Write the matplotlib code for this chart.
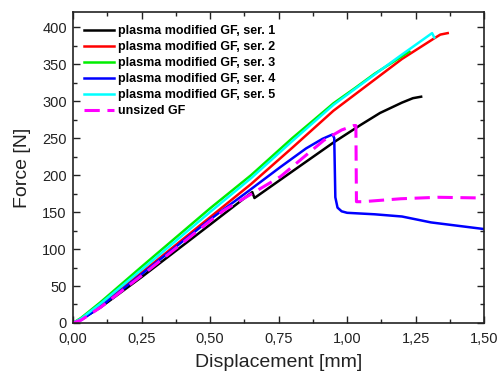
import matplotlib
matplotlib.use("Agg")
import matplotlib.pyplot as plt
from matplotlib.ticker import MultipleLocator, FuncFormatter

plt.rcParams['font.family'] = ['Liberation Sans', 'DejaVu Sans']

# Series data (displacement [mm], force [N])
ser1_x = [0, 0.03, 0.1, 0.25, 0.5, 0.654, 0.662, 0.8, 0.95, 1.05, 1.12, 1.2, 1.24, 1.27]
ser1_y = [0, 5, 21, 62, 133, 177, 169, 205, 244, 268, 284, 298, 304, 306]

ser2_x = [0, 0.03, 0.1, 0.25, 0.5, 0.65, 0.8, 0.95, 1.1, 1.2, 1.318, 1.34, 1.367]
ser2_y = [0, 5, 24, 68, 143, 188, 237, 287, 329, 357, 385, 390, 392]

ser3_x = [0, 0.03, 0.1, 0.25, 0.5, 0.65, 0.8, 0.88, 0.95, 1.03, 1.1, 1.227]
ser3_y = [0, 7, 28, 76, 155, 200, 250, 275, 297, 318, 337, 367]

ser4_x = [0, 0.03, 0.1, 0.25, 0.5, 0.635, 0.757, 0.85, 0.91, 0.947, 0.953, 0.957, 0.965, 0.98, 1.0, 1.1, 1.2, 1.306, 1.5]
ser4_y = [0, 4, 22, 66, 140, 177, 211, 236, 249, 255, 250, 170, 156, 151, 149, 147, 144, 136, 127]

ser5_x = [0, 0.03, 0.1, 0.25, 0.5, 0.65, 0.8, 0.95, 1.1, 1.2, 1.31, 1.318]
ser5_y = [0, 6, 26, 72, 150, 196, 246, 295, 336, 363, 392, 386]

unsized_x = [0, 0.03, 0.1, 0.25, 0.5, 0.549, 0.757, 0.915, 0.98, 1.025, 1.032, 1.034, 1.056, 1.196, 1.33, 1.5]
unsized_y = [0, 4, 21, 64, 138, 152, 198, 247, 261, 267, 267, 164, 164, 168, 170, 169]

labels = ["plasma modified GF, ser. 1", "plasma modified GF, ser. 2",
          "plasma modified GF, ser. 3", "plasma modified GF, ser. 4",
          "plasma modified GF, ser. 5", "unsized GF"]

fig = plt.figure(figsize=(4.99, 3.76), dpi=100)
ax = fig.add_axes([0.1463, 0.141, 0.824, 0.826])

lw = 1.8
ax.plot(ser1_x, ser1_y, color='black', lw=lw, label=labels[0])
ax.plot(ser2_x, ser2_y, color='#ff0000', lw=lw, label=labels[1])
ax.plot(ser3_x, ser3_y, color='#00ee00', lw=lw, label=labels[2])
ax.plot(ser4_x, ser4_y, color='#0000ff', lw=lw, label=labels[3])
ax.plot(ser5_x, ser5_y, color='#00ffff', lw=lw, label=labels[4])
ax.plot(unsized_x, unsized_y, color='#ff00ff', lw=2.2, ls=(0, (5, 2.5)), label=labels[5])

ax.set_xlim(0, 1.5)
ax.set_ylim(0, 420)
ax.xaxis.set_major_locator(MultipleLocator(0.25))
ax.xaxis.set_minor_locator(MultipleLocator(0.125))
ax.yaxis.set_major_locator(MultipleLocator(50))
ax.yaxis.set_minor_locator(MultipleLocator(25))
ax.xaxis.set_major_formatter(FuncFormatter(lambda v, p: f"{v:.2f}".replace('.', ',')))
ax.tick_params(which='both', direction='in', top=True, right=True, labelsize=10.5, colors='#222222')
ax.tick_params(axis='x', pad=6.5)
ax.tick_params(axis='y', pad=4.5)
ax.tick_params(which='major', length=5, width=1)
ax.tick_params(which='minor', length=3, width=1)
for s in ax.spines.values():
    s.set_linewidth(1.2)
    s.set_color('#222222')

ax.set_xlabel("Displacement [mm]", fontsize=14, color='#222222', labelpad=6)
ax.set_ylabel("Force [N]", fontsize=14, color='#222222', labelpad=8)

leg = ax.legend(loc='upper left', frameon=False, prop={'weight': 'bold', 'size': 9},
                handlelength=2.4, handletextpad=0.3, labelspacing=0.32,
                borderaxespad=0.5, bbox_to_anchor=(0.0, 0.995))

fig.savefig("out.png", dpi=100)
